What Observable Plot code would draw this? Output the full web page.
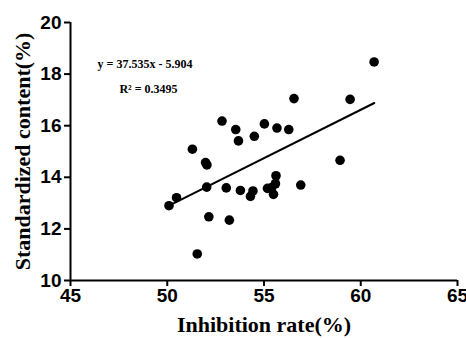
<!DOCTYPE html>
<html>
<head>
<meta charset="utf-8">
<script src="https://cdn.jsdelivr.net/npm/d3@7"></script>
<script src="https://cdn.jsdelivr.net/npm/@observablehq/plot@0.6"></script>
<style>
  html, body { margin: 0; padding: 0; background: #fff; }
</style>
</head>
<body>
<div id="chart"></div>
<script>
const inhibition = [60.69, 59.45, 56.55, 58.93, 56.90, 52.83, 53.54, 53.68, 54.50, 55.02,
  55.67, 56.28, 51.30, 51.98, 52.05, 52.04, 53.05, 53.78, 54.43, 54.30,
  55.18, 55.40, 55.62, 55.59, 55.49, 50.48, 50.09, 52.15, 53.21, 51.55];
const content = [18.47, 17.02, 17.05, 14.66, 13.70, 16.18, 15.85, 15.41, 15.59, 16.07,
  15.91, 15.85, 15.09, 14.57, 14.48, 13.62, 13.59, 13.49, 13.47, 13.26,
  13.57, 13.60, 14.06, 13.75, 13.34, 13.21, 12.90, 12.47, 12.34, 11.03];
const fitX = [50.3, 60.7];
const fitY = [12.98, 16.88];
const xTicks = [45, 50, 55, 60, 65];
const yTicks = [10, 12, 14, 16, 18, 20];
const xLabel = "Inhibition rate(%)";
const yLabel = "Standardized content(%)";
const eqText = "y = 37.535x - 5.904";
const r2Text = "R² = 0.3495";

const points = inhibition.map((x, i) => ({x, y: content[i]}));
const fit = fitX.map((x, i) => ({x, y: fitY[i]}));

const serif = "'Liberation Serif', 'Times New Roman', serif";
const sans = "'Liberation Sans', Arial, sans-serif";

const chart = Plot.plot({
  width: 466,
  height: 338,
  marginLeft: 70,
  marginRight: 9,
  marginTop: 22,
  marginBottom: 58,
  style: {background: "#fff", color: "#000", fontFamily: sans},
  x: {domain: [45, 65]},
  y: {domain: [10, 20]},
  marks: [
    Plot.axisX({ticks: xTicks, tickSize: 6, strokeWidth: 2, tickPadding: 2, fontSize: 19, fontWeight: "bold", fontFamily: sans, label: null}),
    Plot.axisY({ticks: yTicks, tickSize: 6, strokeWidth: 2, tickPadding: 3, fontSize: 19, fontWeight: "bold", fontFamily: sans, label: null}),
    Plot.ruleX([45], {y1: 10, y2: 20, stroke: "#000", strokeWidth: 2}),
    Plot.ruleY([10], {x1: 45, x2: 65, stroke: "#000", strokeWidth: 2}),
    Plot.line(fit, {x: "x", y: "y", stroke: "#000", strokeWidth: 2}),
    Plot.dot(points, {x: "x", y: "y", r: 4.8, fill: "#000", stroke: "none"}),
    Plot.text([eqText], {x: 46.4, y: 18.38, textAnchor: "start", fontSize: 12, fontWeight: "bold", fontFamily: serif, fill: "#000"}),
    Plot.text([r2Text], {x: 47.53, y: 17.43, textAnchor: "start", fontSize: 12, fontWeight: "bold", fontFamily: serif, fill: "#000"}),
    Plot.text([xLabel], {frameAnchor: "bottom", textAnchor: "middle", dy: 51, fontSize: 22, fontWeight: "bold", fontFamily: serif, fill: "#000"}),
    Plot.text([yLabel], {frameAnchor: "left", textAnchor: "middle", dx: -48, rotate: -90, fontSize: 22, fontWeight: "bold", fontFamily: serif, fill: "#000"})
  ]
});
document.getElementById("chart").appendChild(chart);
</script>
</body>
</html>
